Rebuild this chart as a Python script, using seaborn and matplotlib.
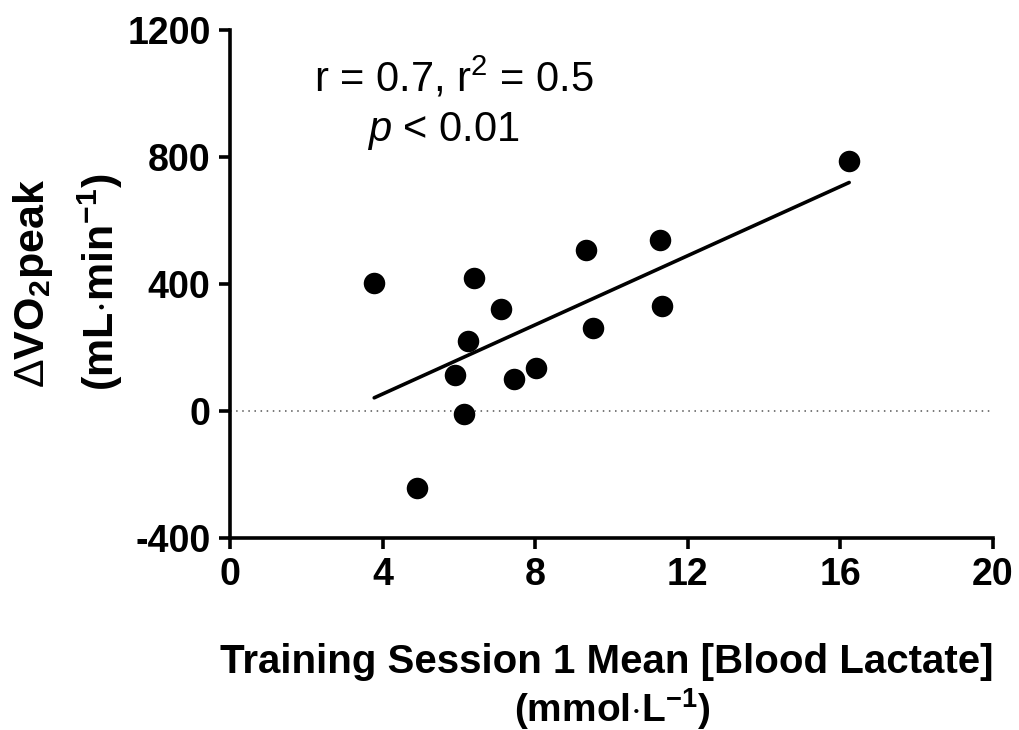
import matplotlib
matplotlib.use("Agg")
import matplotlib.pyplot as plt
import seaborn as sns
import numpy as np

# Data
lactate = [3.78, 4.90, 5.91, 6.14, 6.25, 6.40, 7.10, 7.45, 8.01, 9.32, 9.51, 11.26, 11.32, 16.23]
delta_vo2 = [404, -242, 113, -11, 222, 420, 322, 102, 136, 506, 260, 538, 330, 786]
x_ticks = [0, 4, 8, 12, 16, 20]
y_ticks = [-400, 0, 400, 800, 1200]

sns.set_style("ticks")
plt.rcParams['font.family'] = ['Liberation Sans', 'DejaVu Sans']
plt.rcParams['mathtext.fontset'] = 'custom'
plt.rcParams['mathtext.rm'] = 'Liberation Sans'
plt.rcParams['mathtext.it'] = 'Liberation Sans:italic'
plt.rcParams['mathtext.bf'] = 'Liberation Sans:bold'
plt.rcParams['axes.unicode_minus'] = False
plt.rcParams['text.color'] = 'black'

fig = plt.figure(figsize=(10.19, 7.30), dpi=100)
ax = fig.add_axes([230 / 1019, 1 - 538 / 730, (993 - 230) / 1019, (538 - 30) / 730])

ax.axhline(0, color='#555555', linestyle=(0, (1, 3)), linewidth=1.1, zorder=1)

sns.regplot(x=lactate, y=delta_vo2, ax=ax, ci=None, truncate=True,
            scatter_kws=dict(s=240, color='black', edgecolor='black', linewidths=0, zorder=3, alpha=1),
            line_kws=dict(color='black', linewidth=2.6, zorder=2))

ax.set_xlim(0, 20)
ax.set_ylim(-400, 1200)
ax.set_xticks(x_ticks)
ax.set_yticks(y_ticks)
ax.set_xlabel('')
ax.set_ylabel('')

for s in ['top', 'right']:
    ax.spines[s].set_visible(False)
for s in ['left', 'bottom']:
    ax.spines[s].set_linewidth(2.6)
    ax.spines[s].set_color('black')
ax.tick_params(axis='both', direction='out', length=8, width=2.6, color='black',
               labelcolor='black', labelsize=27, pad=6)
for lab in ax.get_xticklabels() + ax.get_yticklabels():
    lab.set_fontweight('bold')

# annotation
fig.text(454 / 1019, 1 - 78 / 730, r"r = 0.7, r$^{2}$ = 0.5",
         ha='center', va='center', fontsize=30, color='black')
fig.text(443 / 1019, 1 - 131 / 730, r"$p$ < 0.01",
         ha='center', va='center', fontsize=30, color='black')

# axis titles
fig.text(33 / 1019, 1 - 283 / 730, r"$\Delta$VO$_\mathbf{2}$peak", rotation=90,
         ha='center', va='center', fontsize=31, fontweight='bold', color='black')
fig.text(100 / 1019, 1 - 282 / 730, r"(mL$\cdot$min$^\mathbf{-1}$)", rotation=90,
         ha='center', va='center', fontsize=31, fontweight='bold', color='black')
fig.text(607 / 1019, 1 - 662 / 730, "Training Session 1 Mean [Blood Lactate]",
         ha='center', va='center', fontsize=29, fontweight='bold', color='black')
fig.text(612 / 1019, 1 - 709 / 730, r"(mmol$\cdot$L$^\mathbf{-1}$)",
         ha='center', va='center', fontsize=28, fontweight='bold', color='black')

fig.savefig("out.png", dpi=100)
